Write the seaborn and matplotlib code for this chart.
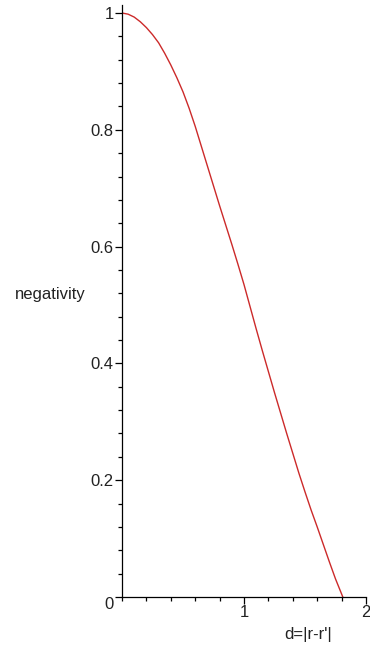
import numpy as np
import pandas as pd
import matplotlib
matplotlib.use("Agg")
import matplotlib.pyplot as plt
import seaborn as sns
from matplotlib.ticker import MultipleLocator

# data
d_values = [0.0, 0.05, 0.1, 0.15, 0.2, 0.25, 0.3, 0.35, 0.4, 0.45, 0.5, 0.55,
            0.6, 0.65, 0.7, 0.75, 0.8, 0.85, 0.9, 0.95, 1.0, 1.05, 1.1, 1.15,
            1.2, 1.25, 1.3, 1.35, 1.4, 1.45, 1.5, 1.55, 1.6, 1.65, 1.7, 1.75,
            1.81]
negativity = [1.0, 0.998, 0.993, 0.985, 0.975, 0.963, 0.949, 0.931, 0.911,
              0.889, 0.865, 0.837, 0.806, 0.772, 0.738, 0.704, 0.670, 0.637,
              0.604, 0.570, 0.535, 0.497, 0.459, 0.422, 0.386, 0.350, 0.315,
              0.280, 0.246, 0.212, 0.180, 0.149, 0.120, 0.090, 0.060, 0.031,
              0.0]
y_ticks = [0, 0.2, 0.4, 0.6, 0.8, 1]
y_tick_labels = ["0", "0.2", "0.4", "0.6", "0.8", "1"]
x_ticks = [1, 2]
x_tick_labels = ["1", "2"]
x_label = "d=|r-r'|"
y_label = "negativity"

sns.set_theme(style="white")
plt.rcParams['font.family'] = ['Liberation Sans', 'DejaVu Sans']

W, H = 370, 652
fig = plt.figure(figsize=(W / 100, H / 100), dpi=100)
ax_left, ax_right = 122 / W, 366 / W
ax_bottom = (H - 597) / H
ax_top = (H - 5) / H
ax = fig.add_axes([ax_left, ax_bottom, ax_right - ax_left, ax_top - ax_bottom])

df = pd.DataFrame({"d": d_values, "neg": negativity})
sns.lineplot(data=df, x="d", y="neg", ax=ax, color="#cc2a2a", linewidth=1.0)

ax.set_xlim(0, 2.0)
ax.set_ylim(0, 1.0137)
ax.set_xlabel("")
ax.set_ylabel("")

for s in ["top", "right"]:
    ax.spines[s].set_visible(False)
for s in ["left", "bottom"]:
    ax.spines[s].set_color("black")
    ax.spines[s].set_linewidth(0.9)

ax.set_yticks(y_ticks)
ax.set_yticklabels(y_tick_labels)
ax.set_xticks(x_ticks)
ax.set_xticklabels(x_tick_labels)
ax.xaxis.set_minor_locator(MultipleLocator(0.2))
ax.yaxis.set_minor_locator(MultipleLocator(0.04))
ax.tick_params(axis="both", which="major", direction="out", length=5, width=0.9,
               color="black", labelsize=12, labelcolor="#222222", pad=1,
               left=True, bottom=True)
ax.tick_params(axis="both", which="minor", direction="out", length=3, width=0.9,
               color="black", left=True, bottom=True)
ax.yaxis.get_majorticklabels()[0].set_verticalalignment("top")

fig.text(308 / W, 1 - 635 / H, x_label, ha="center", va="center",
         fontsize=12, color="#222222")
fig.text(50 / W, 1 - 294 / H, y_label, ha="center", va="center",
         fontsize=12, color="#222222")

fig.savefig("out.png", dpi=100)
